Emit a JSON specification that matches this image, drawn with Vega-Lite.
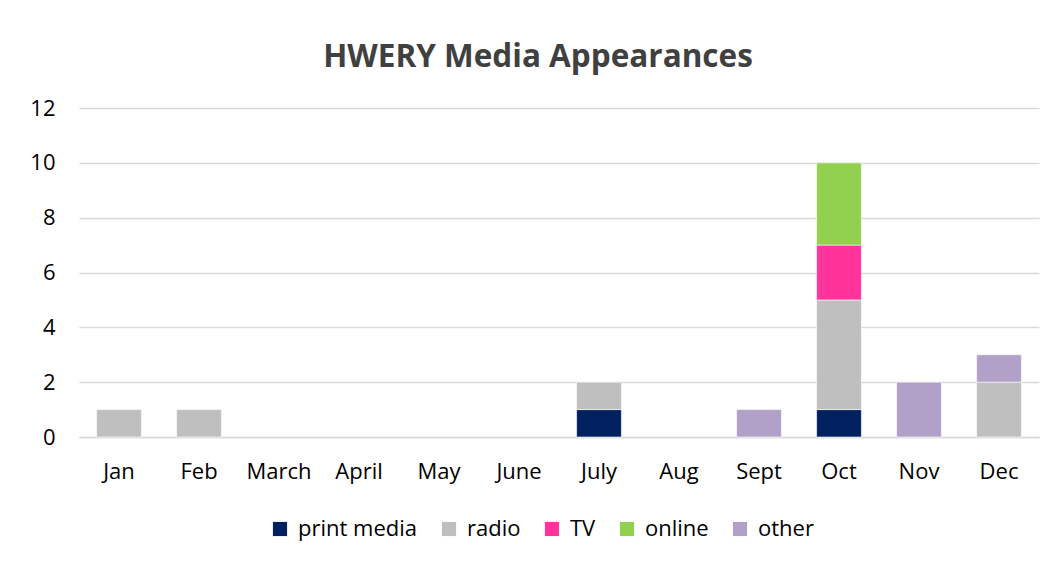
{
  "$schema": "https://vega.github.io/schema/vega-lite/v6.json",
  "autosize": "none",
  "padding": {"left": 79, "top": 108, "right": 16, "bottom": 124},
  "width": 960,
  "height": 329,
  "background": "white",
  "title": {
    "text": "HWERY Media Appearances",
    "font": "Open Sans",
    "fontSize": 31.5,
    "fontWeight": "bold",
    "color": "#404040",
    "anchor": "middle",
    "frame": "group",
    "offset": 24,
    "dx": -21
  },
  "data": {
    "values": [
      {"month": "Jan", "type": "radio", "count": 1},
      {"month": "Feb", "type": "radio", "count": 1},
      {"month": "July", "type": "print media", "count": 1},
      {"month": "July", "type": "radio", "count": 1},
      {"month": "Sept", "type": "other", "count": 1},
      {"month": "Oct", "type": "print media", "count": 1},
      {"month": "Oct", "type": "radio", "count": 4},
      {"month": "Oct", "type": "TV", "count": 2},
      {"month": "Oct", "type": "online", "count": 3},
      {"month": "Nov", "type": "other", "count": 2},
      {"month": "Dec", "type": "radio", "count": 2},
      {"month": "Dec", "type": "other", "count": 1}
    ]
  },
  "transform": [
    {"calculate": "indexof(['print media','radio','TV','online','other'], datum.type)", "as": "stackOrder"}
  ],
  "mark": {"type": "bar", "stroke": "white", "strokeWidth": 0.6},
  "encoding": {
    "x": {
      "field": "month",
      "type": "nominal",
      "scale": {
        "domain": ["Jan", "Feb", "March", "April", "May", "June", "July", "Aug", "Sept", "Oct", "Nov", "Dec"],
        "paddingInner": 0.44,
        "paddingOuter": 0.22
      },
      "axis": {
        "title": null,
        "labelAngle": 0,
        "ticks": false,
        "labelPadding": 24,
        "labelFont": "Open Sans",
        "labelFontSize": 22,
        "labelColor": "#000000",
        "domainColor": "#D9D9D9",
        "domainWidth": 1.5,
        "grid": false
      }
    },
    "y": {
      "field": "count",
      "type": "quantitative",
      "stack": "zero",
      "scale": {"domain": [0, 12], "nice": false},
      "axis": {
        "title": null,
        "values": [0, 2, 4, 6, 8, 10, 12],
        "domain": false,
        "ticks": false,
        "labelPadding": 24,
        "labelFont": "Open Sans",
        "labelFontSize": 22,
        "labelColor": "#000000",
        "gridColor": "#D9D9D9",
        "gridWidth": 1.5
      }
    },
    "order": {"field": "stackOrder", "type": "quantitative", "sort": "ascending"},
    "color": {
      "field": "type",
      "type": "nominal",
      "scale": {
        "domain": ["print media", "radio", "TV", "online", "other"],
        "range": ["#002060", "#BFBFBF", "#FF3399", "#92D050", "#B1A0C7"]
      },
      "legend": {
        "title": null,
        "orient": "none",
        "direction": "horizontal",
        "legendX": 190,
        "legendY": 410,
        "symbolType": "square",
        "symbolSize": 200,
        "symbolStrokeWidth": 0,
        "labelFont": "Open Sans",
        "labelFontSize": 22,
        "labelColor": "#000000",
        "columnPadding": 20,
        "labelOffset": 7
      }
    }
  },
  "config": {"view": {"stroke": null}}
}
